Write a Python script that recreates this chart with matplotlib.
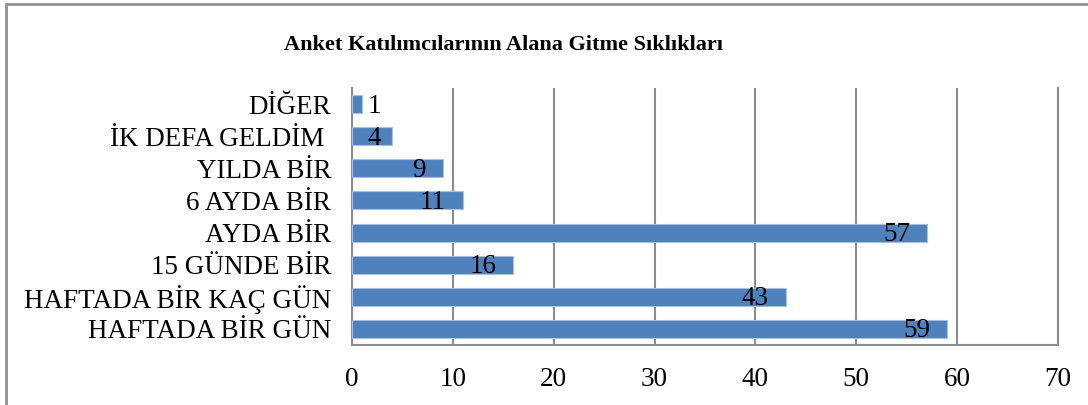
import matplotlib
matplotlib.use("Agg")
import matplotlib.pyplot as plt
from matplotlib.patches import Rectangle

categories = ["HAFTADA BİR GÜN", "HAFTADA BİR KAÇ GÜN", "15 GÜNDE BİR", "AYDA BİR",
              "6 AYDA BİR", "YILDA BİR", "İK DEFA GELDİM ", "DİĞER"]
values = [59, 43, 16, 57, 11, 9, 4, 1]
xticks = [0, 10, 20, 30, 40, 50, 60, 70]
title = "Anket Katılımcılarının Alana Gitme Sıklıkları"

plt.rcParams['font.family'] = ['Liberation Serif', 'DejaVu Serif']

W, H = 1088, 405
fig = plt.figure(figsize=(W / 100, H / 100), dpi=100)
ax = fig.add_axes([352 / W, 1 - 345 / H, (1058 - 352) / W, (345 - 88) / H])

gray = "#8c8c8c"
y = list(range(len(categories)))
ax.barh(y, values, height=0.56, color="#4f81bd", edgecolor="#a9c0de", linewidth=0.8, zorder=3)
ax.set_ylim(-0.5, len(categories) - 0.5)
ax.set_xlim(0, 70)
ax.set_xticks(xticks)
ax.set_xticklabels([str(t) for t in xticks], fontsize=19.5)
ax.set_yticks(y)
ax.set_yticklabels(categories, fontsize=19.5)
ax.tick_params(axis='x', length=0, width=0, pad=16)
ax.tick_params(axis='y', length=0, width=0, pad=15)
ax.grid(axis='x', color=gray, linewidth=1.5, zorder=0)
ax.spines["top"].set_visible(False)
for s in ["left", "bottom", "right"]:
    ax.spines[s].set_color(gray)
    ax.spines[s].set_linewidth(1.5)

for yi, v in zip(y, values):
    if v >= 5:
        ax.annotate(str(v), (v, yi), xytext=(-17, -2), textcoords="offset pixels",
                    ha="right", va="center", fontsize=19.5, color="black", zorder=4)
    else:
        ax.annotate(str(v), (0, yi), xytext=(16, -2), textcoords="offset pixels",
                    ha="left", va="center", fontsize=19.5, color="black", zorder=4)

fig.text(504 / W, 1 - 45 / H, title, ha="center", va="center", fontsize=16, fontweight="bold")

fig.patches.append(Rectangle((6 / W, -0.05), 1.1, 1 - 4 / H + 0.05, transform=fig.transFigure,
                             fill=False, edgecolor="#8f8f8f", linewidth=2, clip_on=False))

fig.savefig("out.png", dpi=100)
